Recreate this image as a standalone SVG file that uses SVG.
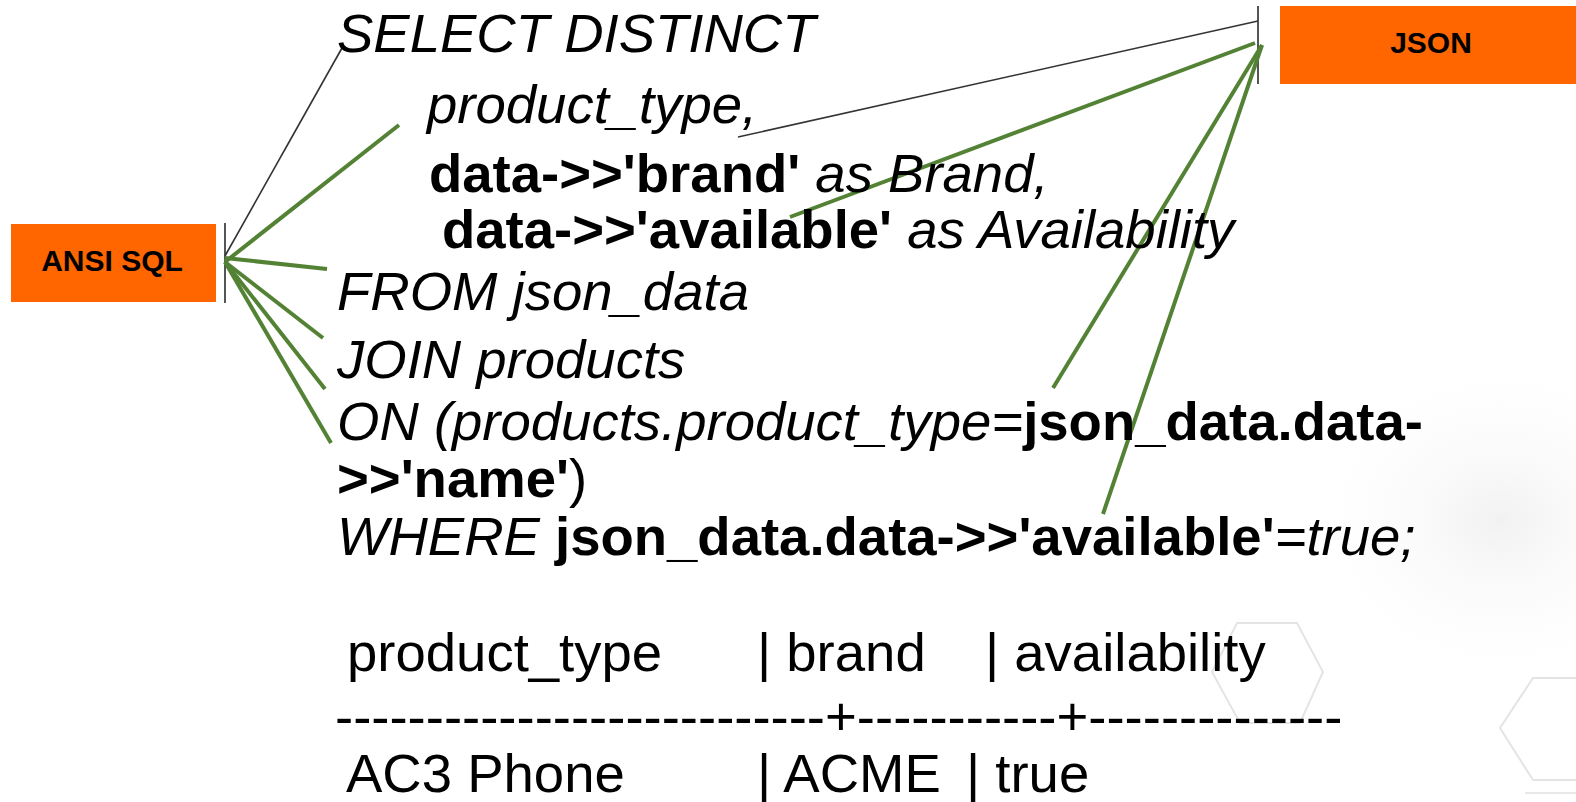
<svg xmlns="http://www.w3.org/2000/svg" width="1576" height="802" viewBox="0 0 1576 802">
<style>
  .t { font-family: "Liberation Sans", Arial, sans-serif; font-size: 54.5px; fill: #000; }
  .i { font-style: italic; }
  .b { font-weight: bold; font-style: normal; }
  .r { font-style: normal; font-weight: normal; }
  .tbl { font-family: "Liberation Sans", Arial, sans-serif; font-size: 54.5px; fill: #000; }
  .lbl { font-family: "Liberation Sans", Arial, sans-serif; font-size: 30px; font-weight: bold; fill: #000; text-anchor: middle; }
  .box { fill: #FF6600; }
  .bar { stroke: #555; stroke-width: 2; }
  .thin { stroke: #333; stroke-width: 1.6; fill: none; }
  .green { stroke: #548235; stroke-width: 4; fill: none; }
  .hex { fill: none; stroke: #e4e4e4; stroke-width: 2; }
</style>
<defs>
  <radialGradient id="fade" cx="0.6" cy="0.5" r="0.5">
    <stop offset="0" stop-color="#eeeeee" stop-opacity="0.8"/>
    <stop offset="1" stop-color="#ffffff" stop-opacity="0"/>
  </radialGradient>
</defs>
<rect width="1576" height="802" fill="#fff"/>
<g id="background">
  <ellipse cx="1460" cy="520" rx="200" ry="170" fill="url(#fade)"/>
  <polygon class="hex" points="1237,623 1297,623 1323,672 1300,723 1240,723 1212,672"/>
  <polygon class="hex" points="1533,678 1590,678 1600,728 1590,780 1533,780 1500,728"/>
  <line x1="1525" y1="793" x2="1576" y2="793" stroke="#e8e8e8" stroke-width="2"/>
</g>
<g id="connectors">
  <line class="bar" x1="225" y1="223" x2="225" y2="303"/>
  <line class="bar" x1="1258" y1="6" x2="1258" y2="84"/>
  <line class="thin" x1="225" y1="256" x2="342" y2="48"/>
  <line class="green" x1="225" y1="262" x2="399" y2="125"/>
  <line class="green" x1="225" y1="258" x2="327" y2="269"/>
  <line class="green" x1="225" y1="262" x2="323" y2="338"/>
  <line class="green" x1="225" y1="262" x2="325" y2="389"/>
  <line class="green" x1="225" y1="262" x2="331" y2="443"/>
  <line class="thin" x1="1258" y1="21" x2="738" y2="137"/>
  <line class="green" x1="1255" y1="43" x2="790" y2="217"/>
  <line class="green" x1="1262" y1="45" x2="1053" y2="388"/>
  <line class="green" x1="1262" y1="45" x2="1103" y2="514"/>
</g>
<g id="ansi-sql">
  <rect class="box" x="11" y="224" width="205" height="78"/>
  <text class="lbl" x="112" y="271">ANSI SQL</text>
</g>
<g id="json">
  <rect class="box" x="1280" y="6" width="302" height="78"/>
  <text class="lbl" x="1431" y="53">JSON</text>
</g>
<g id="query">
  <text class="t i" x="337" y="52">SELECT DISTINCT</text>
  <text class="t i" x="427" y="123">product_type,</text>
  <text class="t" x="429" y="192"><tspan class="b">data-&gt;&gt;'brand'</tspan><tspan class="i"> as Brand,</tspan></text>
  <text class="t" x="442" y="248"><tspan class="b">data-&gt;&gt;'available'</tspan><tspan class="i"> as Availability</tspan></text>
  <text class="t i" x="337" y="310">FROM json_data</text>
  <text class="t i" x="337" y="378">JOIN products</text>
  <text class="t" x="337" y="440"><tspan class="i">ON (products.product_type=</tspan><tspan class="b">json_data.data-</tspan></text>
  <text class="t" x="337" y="497"><tspan class="b">&gt;&gt;'name'</tspan><tspan class="r">)</tspan></text>
  <text class="t" x="337" y="555"><tspan class="i">WHERE </tspan><tspan class="b">json_data.data-&gt;&gt;'available'</tspan><tspan class="i">=true;</tspan></text>
</g>
<g id="result">
  <text class="tbl" x="347" y="671">product_type</text>
  <text class="tbl" x="757" y="671">| brand</text>
  <text class="tbl" x="985" y="671">| availability</text>
  <text class="tbl" x="335" y="735">---------------------------+-----------+--------------</text>
  <text class="tbl" x="346" y="792">AC3 Phone</text>
  <text class="tbl" x="757" y="792">| ACME</text>
  <text class="tbl" x="966" y="792">| true</text>
</g>
</svg>
